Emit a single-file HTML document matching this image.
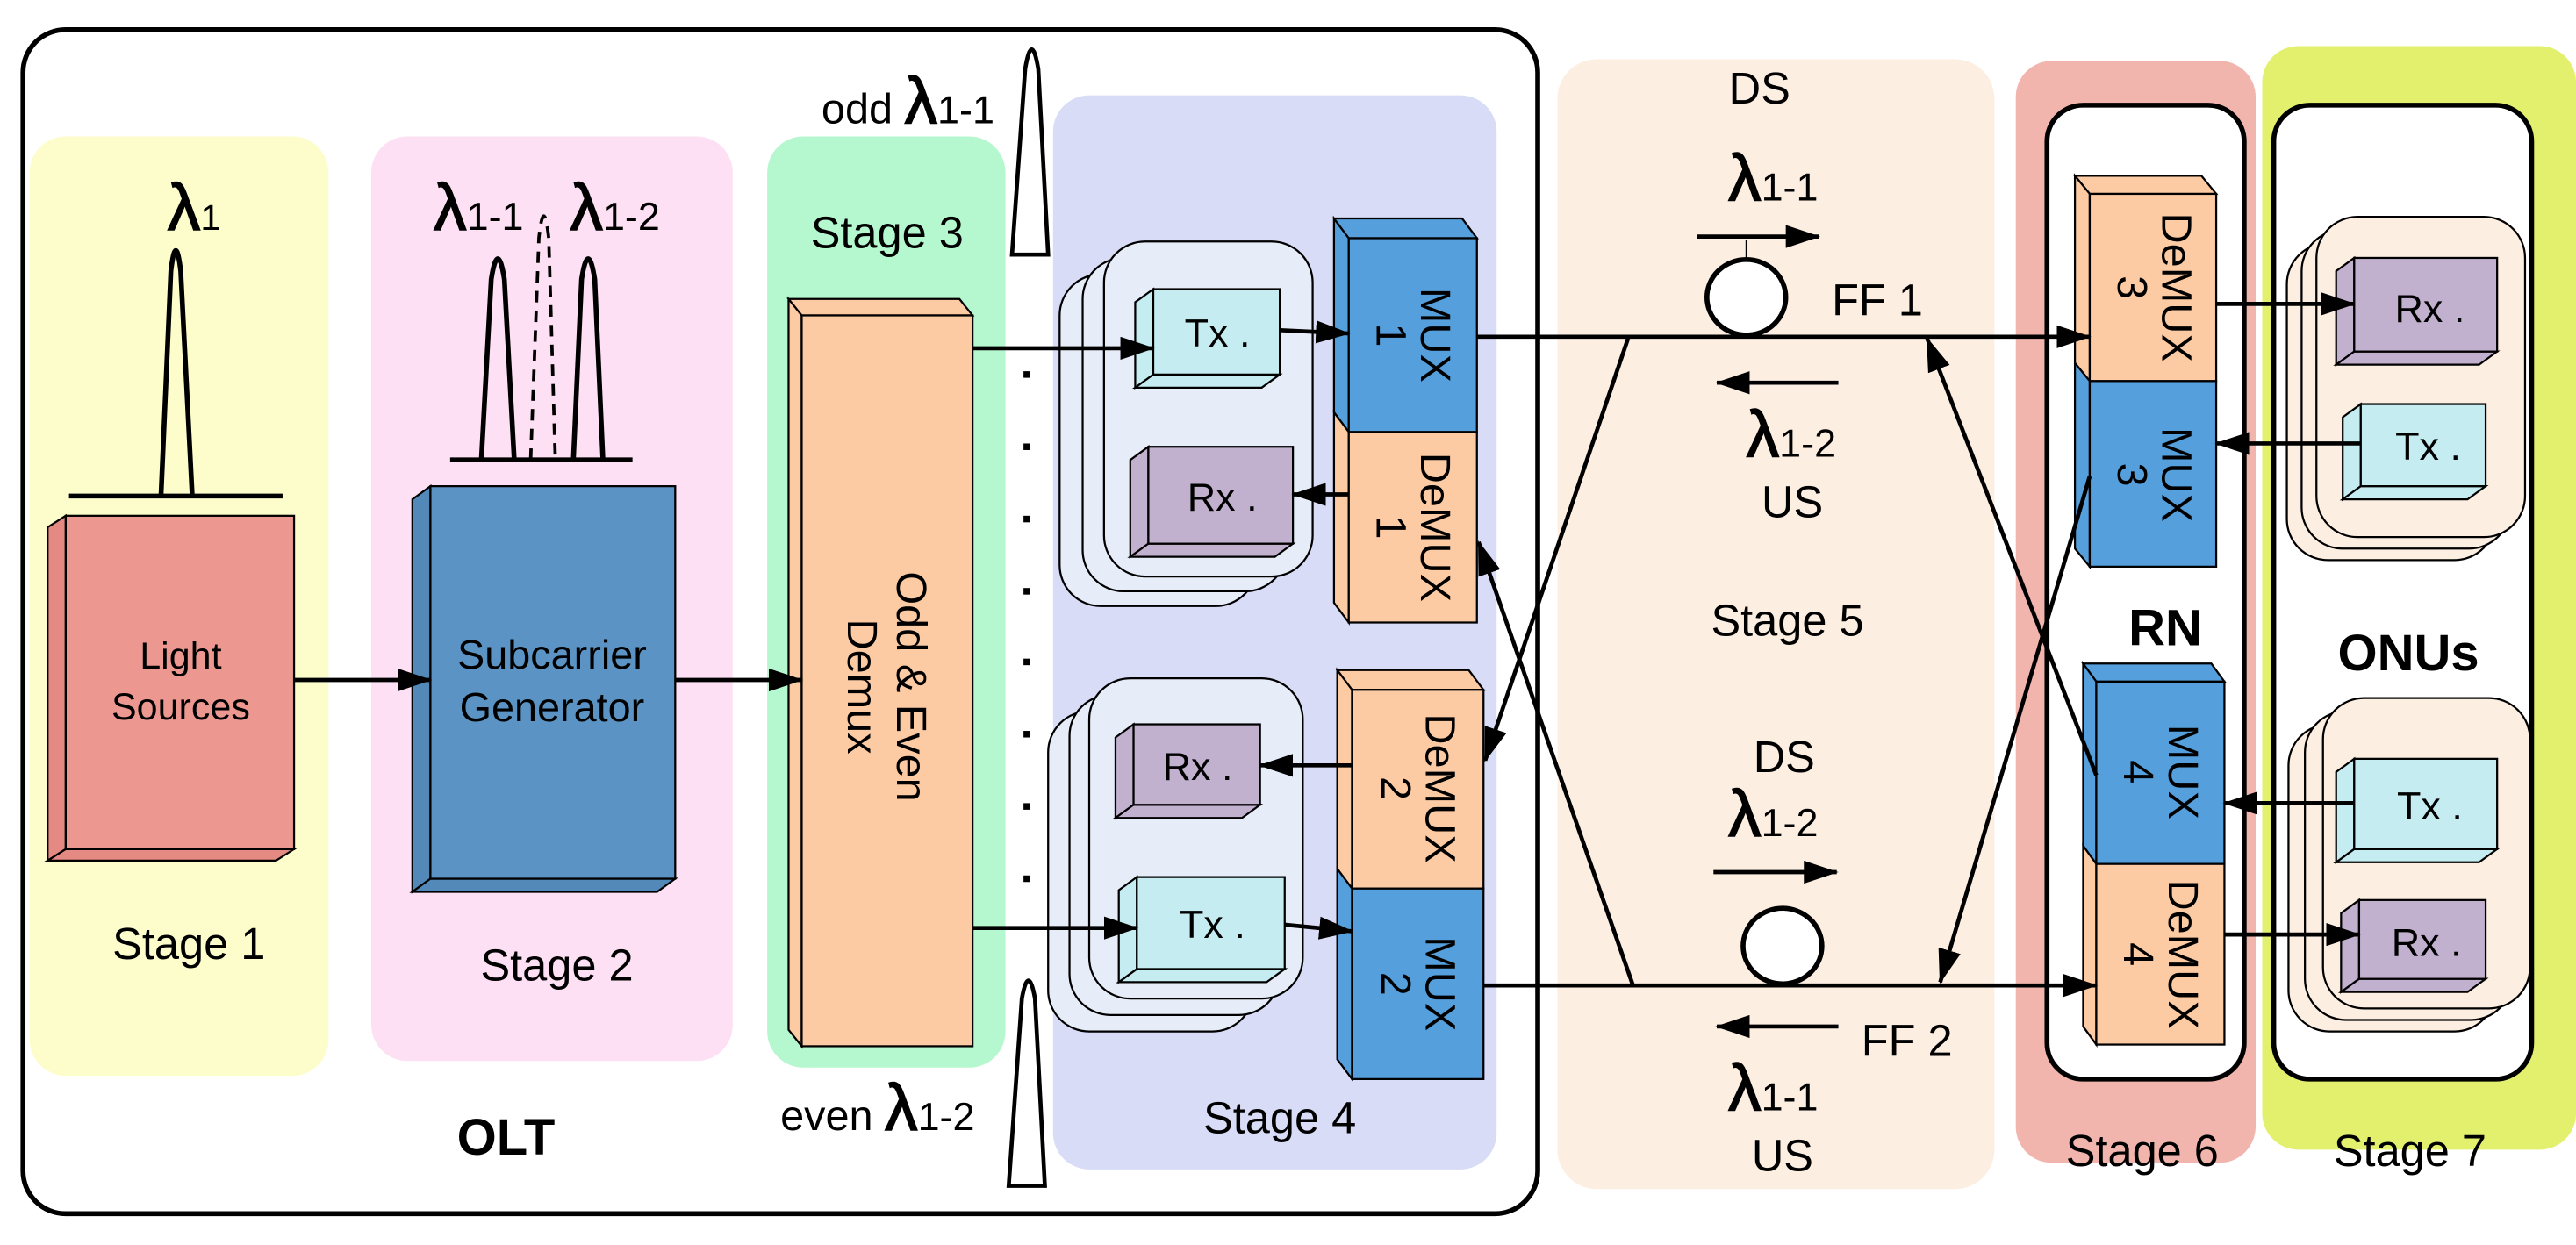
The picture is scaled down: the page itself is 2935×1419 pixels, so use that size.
<!DOCTYPE html>
<html><head><meta charset="utf-8"><style>
html,body{margin:0;padding:0;background:#fff;}
svg{display:block;}
text{font-family:"Liberation Sans",Arial,sans-serif;fill:#000;}
.L{font-size:40px;stroke:#000;stroke-width:0.8px;}
</style></head><body>
<svg width="2935" height="1419" viewBox="0 0 1568 758" xmlns="http://www.w3.org/2000/svg">
<defs>
<marker id="a" markerUnits="userSpaceOnUse" markerWidth="22" markerHeight="14" refX="20" refY="7" orient="auto"><path d="M0,0 L21,7 L0,14 Z" fill="#000"/></marker>
</defs>
<rect x="18" y="83" width="182" height="572" rx="22" fill="#fdfdcc"/>
<rect x="226" y="83" width="220" height="563" rx="22" fill="#fde0f3"/>
<rect x="467" y="83" width="145" height="567" rx="22" fill="#b5f7cf"/>
<rect x="641" y="58" width="270" height="654" rx="22" fill="#d8dcf6"/>
<rect x="948" y="36" width="266" height="688" rx="24" fill="#fdeee2"/>
<rect x="1227" y="37" width="146" height="671" rx="22" fill="#f1b5ad"/>
<rect x="1377" y="28" width="191" height="672" rx="22" fill="#e3f06e"/>
<rect x="14" y="18" width="922" height="721" rx="26" fill="none" stroke="#000" stroke-width="3"/>
<rect x="1246" y="64" width="120" height="593" rx="22" fill="#fff" stroke="#000" stroke-width="3"/>
<rect x="1384" y="64" width="157" height="593" rx="22" fill="#fff" stroke="#000" stroke-width="3"/>

<g stroke="#000" stroke-width="1.2">
<polygon points="40,314 29,321 29,524 40,517" fill="#e58a83"/>
<polygon points="40,517 29,524 168,524 179,517" fill="#e58a83"/>
<rect x="40" y="314" width="139" height="203" fill="#ec9891"/>
<polygon points="262,296 251,304 251,543 262,535" fill="#5289b8"/>
<polygon points="262,535 251,543 400,543 411,535" fill="#5289b8"/>
<rect x="262" y="296" width="149" height="239" fill="#5b94c4"/>
<polygon points="488,192 480,182 480,627 488,637" fill="#fccba4"/>
<polygon points="488,192 480,182 584,182 592,192" fill="#fccba4"/>
<rect x="488" y="192" width="104" height="445" fill="#fccba4"/>

<rect x="645" y="167" width="120" height="202" rx="25" fill="#e6ecf8"/>
<rect x="659" y="157" width="124" height="203" rx="25" fill="#e6ecf8"/>
<rect x="672" y="147" width="127" height="204" rx="25" fill="#e6ecf8"/>
<polygon points="702,176 691,184 691,236 702,228" fill="#c5ecf1"/>
<polygon points="702,228 691,236 768,236 779,228" fill="#c5ecf1"/>
<rect x="702" y="176" width="77" height="52" fill="#c5ecf1"/>
<polygon points="699,272 688,280 688,339 699,331" fill="#c2b0cf"/>
<polygon points="699,331 688,339 776,339 787,331" fill="#c2b0cf"/>
<rect x="699" y="272" width="88" height="59" fill="#c2b0cf"/>
<polygon points="821,145 812,133 812,251 821,263" fill="#559fdc"/>
<polygon points="821,145 812,133 890,133 899,145" fill="#559fdc"/>
<rect x="821" y="145" width="78" height="118" fill="#559fdc"/>
<polygon points="821,263 812,251 812,367 821,379" fill="#fccba4"/>
<rect x="821" y="263" width="78" height="116" fill="#fccba4"/>
<rect x="638" y="433" width="125" height="195" rx="25" fill="#e6ecf8"/>
<rect x="651" y="423" width="128" height="195" rx="25" fill="#e6ecf8"/>
<rect x="663" y="413" width="130" height="195" rx="25" fill="#e6ecf8"/>
<polygon points="690,441 679,449 679,498 690,490" fill="#c2b0cf"/>
<polygon points="690,490 679,498 756,498 767,490" fill="#c2b0cf"/>
<rect x="690" y="441" width="77" height="49" fill="#c2b0cf"/>
<polygon points="692,534 681,542 681,598 692,590" fill="#c5ecf1"/>
<polygon points="692,590 681,598 771,598 782,590" fill="#c5ecf1"/>
<rect x="692" y="534" width="90" height="56" fill="#c5ecf1"/>
<polygon points="823,420 814,408 894,408 903,420" fill="#fccba4"/>
<polygon points="823,420 814,408 814,529 823,541" fill="#fccba4"/>
<rect x="823" y="420" width="80" height="121" fill="#fccba4"/>
<polygon points="823,541 814,529 814,645 823,657" fill="#559fdc"/>
<rect x="823" y="541" width="80" height="116" fill="#559fdc"/>

<polygon points="1272,118 1263,107 1340,107 1349,118" fill="#fccba4"/>
<polygon points="1272,118 1263,107 1263,221 1272,232" fill="#fccba4"/>
<rect x="1272" y="118" width="77" height="114" fill="#fccba4"/>
<polygon points="1272,232 1263,221 1263,334 1272,345" fill="#559fdc"/>
<rect x="1272" y="232" width="77" height="113" fill="#559fdc"/>
<polygon points="1276,415 1268,404 1346,404 1354,415" fill="#559fdc"/>
<polygon points="1276,415 1268,404 1268,515 1276,526" fill="#559fdc"/>
<rect x="1276" y="415" width="78" height="111" fill="#559fdc"/>
<polygon points="1276,526 1268,515 1268,625 1276,636" fill="#fccba4"/>
<rect x="1276" y="526" width="78" height="110" fill="#fccba4"/>

<rect x="1392" y="148" width="127" height="193" rx="25" fill="#fdeee2"/>
<rect x="1401" y="140" width="127" height="194" rx="25" fill="#fdeee2"/>
<rect x="1410" y="132" width="127" height="195" rx="25" fill="#fdeee2"/>
<polygon points="1433,157 1422,165 1422,222 1433,214" fill="#c2b0cf"/>
<polygon points="1433,214 1422,222 1509,222 1520,214" fill="#c2b0cf"/>
<rect x="1433" y="157" width="87" height="57" fill="#c2b0cf"/>
<polygon points="1437,246 1426,254 1426,304 1437,296" fill="#c5ecf1"/>
<polygon points="1437,296 1426,304 1502,304 1513,296" fill="#c5ecf1"/>
<rect x="1437" y="246" width="76" height="50" fill="#c5ecf1"/>
<rect x="1393" y="441" width="126" height="187" rx="25" fill="#fdeee2"/>
<rect x="1403" y="433" width="126" height="188" rx="25" fill="#fdeee2"/>
<rect x="1414" y="425" width="126" height="189" rx="25" fill="#fdeee2"/>
<polygon points="1433,462 1422,470 1422,525 1433,517" fill="#c5ecf1"/>
<polygon points="1433,517 1422,525 1509,525 1520,517" fill="#c5ecf1"/>
<rect x="1433" y="462" width="87" height="55" fill="#c5ecf1"/>
<polygon points="1436,548 1425,556 1425,604 1436,596" fill="#c2b0cf"/>
<polygon points="1436,596 1425,604 1502,604 1513,596" fill="#c2b0cf"/>
<rect x="1436" y="548" width="77" height="48" fill="#c2b0cf"/>
</g>

<g fill="none" stroke="#000" stroke-width="3">
<line x1="42" y1="302" x2="172" y2="302"/>
<path d="M98,302 L104,165 Q107,140 110,165 L117,302"/>
<line x1="274" y1="280" x2="385" y2="280"/>
<path d="M293,280 L299,170 Q303,145 307,170 L313,280"/>
<path d="M349,280 L354,170 Q358,145 362,170 L367,280"/>
<path d="M323,280 L328,145 Q331,118 334,145 L338,280" stroke-width="2" stroke-dasharray="7,5"/>
</g>
<g fill="#fff" stroke="#000" stroke-width="2.5">
<path d="M616,155 L624,42 Q628,18 632,42 L638,155 Z"/>
<path d="M614,722 L622,608 Q626,586 630,608 L636,722 Z"/>
</g>
<g fill="#000">
<rect x="623" y="226" width="4" height="4"/><rect x="623" y="270" width="4" height="4"/>
<rect x="623" y="314" width="4" height="4"/><rect x="623" y="358" width="4" height="4"/>
<rect x="623" y="401" width="4" height="4"/><rect x="623" y="445" width="4" height="4"/>
<rect x="623" y="489" width="4" height="4"/><rect x="623" y="533" width="4" height="4"/>
</g>

<g stroke="#000" stroke-width="2.5" fill="none">
<line x1="179" y1="414" x2="262" y2="414" marker-end="url(#a)"/>
<line x1="411" y1="414" x2="488" y2="414" marker-end="url(#a)"/>
<line x1="592" y1="212" x2="702" y2="212" marker-end="url(#a)"/>
<line x1="592" y1="565" x2="692" y2="565" marker-end="url(#a)"/>
<line x1="779" y1="201" x2="821" y2="203" marker-end="url(#a)"/>
<line x1="821" y1="301" x2="787" y2="301" marker-end="url(#a)"/>
<line x1="823" y1="466" x2="767" y2="466" marker-end="url(#a)"/>
<line x1="782" y1="563" x2="823" y2="567" marker-end="url(#a)"/>
<line x1="899" y1="205" x2="1272" y2="205" marker-end="url(#a)"/>
<line x1="903" y1="600" x2="1276" y2="600" marker-end="url(#a)"/>
<line x1="991" y1="206" x2="904" y2="463" marker-end="url(#a)"/>
<line x1="994" y1="600" x2="900" y2="330" marker-end="url(#a)"/>
<line x1="1276" y1="472" x2="1173" y2="206" marker-end="url(#a)"/>
<line x1="1272" y1="290" x2="1181" y2="598" marker-end="url(#a)"/>
<line x1="1349" y1="185" x2="1433" y2="185" marker-end="url(#a)"/>
<line x1="1437" y1="270" x2="1349" y2="270" marker-end="url(#a)"/>
<line x1="1433" y1="489" x2="1354" y2="489" marker-end="url(#a)"/>
<line x1="1354" y1="569" x2="1436" y2="569" marker-end="url(#a)"/>
<line x1="1033" y1="144" x2="1107" y2="144" marker-end="url(#a)"/>
<line x1="1119" y1="233" x2="1045" y2="233" marker-end="url(#a)"/>
<line x1="1043" y1="531" x2="1118" y2="531" marker-end="url(#a)"/>
<line x1="1119" y1="625" x2="1045" y2="625" marker-end="url(#a)"/>
</g>
<g fill="#fff" stroke="#000" stroke-width="3">
<ellipse cx="1063" cy="181" rx="24" ry="23"/>
<ellipse cx="1085" cy="576" rx="24" ry="23"/>
</g>
<line x1="1063" y1="146" x2="1063" y2="158" stroke="#000" stroke-width="1"/>

<text x="102" y="140"><tspan class="L">λ</tspan><tspan font-size="22">1</tspan></text>
<text x="264" y="140"><tspan class="L">λ</tspan><tspan font-size="24">1-1</tspan></text>
<text x="347" y="140"><tspan class="L">λ</tspan><tspan font-size="24">1-2</tspan></text>
<text x="110" y="407" font-size="23" text-anchor="middle">Light</text>
<text x="110" y="438" font-size="23" text-anchor="middle">Sources</text>
<text x="336" y="407" font-size="25" text-anchor="middle">Subcarrier</text>
<text x="336" y="439" font-size="25" text-anchor="middle">Generator</text>
<text x="115" y="584" font-size="27" text-anchor="middle">Stage 1</text>
<text x="339" y="597" font-size="27" text-anchor="middle">Stage 2</text>
<text x="540" y="151" font-size="27" text-anchor="middle">Stage 3</text>
<text x="308" y="703" font-size="31" font-weight="bold" text-anchor="middle">OLT</text>
<text x="500" y="75" font-size="26">odd <tspan class="L">λ</tspan><tspan font-size="24">1-1</tspan></text>
<text x="475" y="688" font-size="26">even <tspan class="L">λ</tspan><tspan font-size="24">1-2</tspan></text>
<text transform="translate(540,418) rotate(90)" font-size="26" text-anchor="middle"><tspan x="0" y="-6">Odd &amp; Even</tspan><tspan x="0" y="24">Demux</tspan></text>

<text x="741" y="211" font-size="24" text-anchor="middle">Tx .</text>
<text x="744" y="311" font-size="24" text-anchor="middle">Rx .</text>
<text x="729" y="475" font-size="24" text-anchor="middle">Rx .</text>
<text x="738" y="571" font-size="24" text-anchor="middle">Tx .</text>
<text transform="translate(860,204) rotate(90)" font-size="26" text-anchor="middle"><tspan x="0" y="-5">MUX</tspan><tspan x="0" y="22">1</tspan></text>
<text transform="translate(860,321) rotate(90)" font-size="26" text-anchor="middle"><tspan x="0" y="-5">DeMUX</tspan><tspan x="0" y="22">1</tspan></text>
<text transform="translate(863,480) rotate(90)" font-size="26" text-anchor="middle"><tspan x="0" y="-5">DeMUX</tspan><tspan x="0" y="22">2</tspan></text>
<text transform="translate(863,599) rotate(90)" font-size="26" text-anchor="middle"><tspan x="0" y="-5">MUX</tspan><tspan x="0" y="22">2</tspan></text>
<text x="779" y="690" font-size="27" text-anchor="middle">Stage 4</text>

<text x="1071" y="63" font-size="27" text-anchor="middle">DS</text>
<text x="1052" y="122"><tspan class="L">λ</tspan><tspan font-size="24">1-1</tspan></text>
<text x="1115" y="192" font-size="27">FF 1</text>
<text x="1063" y="278"><tspan class="L">λ</tspan><tspan font-size="24">1-2</tspan></text>
<text x="1091" y="315" font-size="27" text-anchor="middle">US</text>
<text x="1088" y="387" font-size="27" text-anchor="middle">Stage 5</text>
<text x="1086" y="470" font-size="27" text-anchor="middle">DS</text>
<text x="1052" y="509"><tspan class="L">λ</tspan><tspan font-size="24">1-2</tspan></text>
<text x="1133" y="643" font-size="27">FF 2</text>
<text x="1052" y="676"><tspan class="L">λ</tspan><tspan font-size="24">1-1</tspan></text>
<text x="1085" y="713" font-size="27" text-anchor="middle">US</text>

<text transform="translate(1311,175) rotate(90)" font-size="26" text-anchor="middle"><tspan x="0" y="-5">DeMUX</tspan><tspan x="0" y="22">3</tspan></text>
<text transform="translate(1311,289) rotate(90)" font-size="26" text-anchor="middle"><tspan x="0" y="-5">MUX</tspan><tspan x="0" y="22">3</tspan></text>
<text transform="translate(1315,470) rotate(90)" font-size="26" text-anchor="middle"><tspan x="0" y="-5">MUX</tspan><tspan x="0" y="22">4</tspan></text>
<text transform="translate(1315,581) rotate(90)" font-size="26" text-anchor="middle"><tspan x="0" y="-5">DeMUX</tspan><tspan x="0" y="22">4</tspan></text>
<text x="1318" y="393" font-size="31" font-weight="bold" text-anchor="middle">RN</text>
<text x="1304" y="710" font-size="27" text-anchor="middle">Stage 6</text>

<text x="1479" y="196" font-size="24" text-anchor="middle">Rx .</text>
<text x="1478" y="280" font-size="24" text-anchor="middle">Tx .</text>
<text x="1479" y="499" font-size="24" text-anchor="middle">Tx .</text>
<text x="1477" y="582" font-size="24" text-anchor="middle">Rx .</text>
<text x="1466" y="408" font-size="31" font-weight="bold" text-anchor="middle">ONUs</text>
<text x="1467" y="710" font-size="27" text-anchor="middle">Stage 7</text>
</svg>
</body></html>
